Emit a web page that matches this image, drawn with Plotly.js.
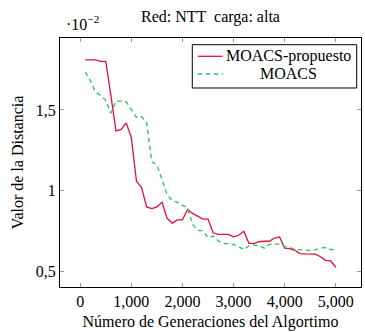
<!DOCTYPE html>
<html>
<head>
<meta charset="utf-8">
<script src="https://cdn.plot.ly/plotly-3.0.1.min.js"></script>
<style>html,body{margin:0;padding:0;background:#fff;}#chart{width:365px;height:332px;}</style>
</head>
<body>
<div id="chart"></div>
<script>
const generations = [100,200,300,400,500,600,700,800,900,1000,1100,1200,1300,1400,1500,1600,1700,1800,1900,2000,2100,2200,2300,2400,2500,2600,2700,2800,2900,3000,3100,3200,3300,3400,3500,3600,3700,3800,3900,4000,4100,4200,4300,4400,4500,4600,4700,4800,4900,5000];
const moacsPropuesto = [1.81,1.81,1.81,1.80,1.80,1.59,1.37,1.38,1.42,1.33,1.06,1.02,0.90,0.89,0.90,0.93,0.83,0.80,0.82,0.82,0.885,0.86,0.84,0.825,0.825,0.74,0.73,0.73,0.73,0.715,0.725,0.75,0.675,0.675,0.685,0.688,0.688,0.708,0.715,0.645,0.642,0.632,0.612,0.61,0.608,0.608,0.592,0.57,0.566,0.527];
const moacs = [1.735,1.68,1.61,1.59,1.56,1.48,1.555,1.555,1.55,1.50,1.455,1.46,1.42,1.18,1.16,1.07,0.975,0.94,0.93,0.91,0.895,0.79,0.755,0.752,0.71,0.72,0.69,0.675,0.672,0.668,0.655,0.635,0.66,0.665,0.66,0.645,0.67,0.672,0.67,0.655,0.65,0.637,0.634,0.632,0.632,0.634,0.646,0.648,0.637,0.635];
const xTickVals = [0,1000,2000,3000,4000,5000];
const xTickText = ['0','1,000','2,000','3,000','4,000','5,000'];
const yTickVals = [0.5,1,1.5];
const yTickText = ['0,5','1','1,5'];
const seriesNames = ['MOACS-propuesto', 'MOACS'];
const seriesColors = ['#e0103c', '#22c55a'];
const seriesDash = ['solid', '4.5px,3.5px'];

const FONT = '"Liberation Serif", serif';
const traces = [moacsPropuesto, moacs].map(function(vals, i){
  return {x: generations, y: vals, type: 'scatter', mode: 'lines', name: seriesNames[i],
          showlegend: false, line: {color: seriesColors[i], width: 1.3, dash: seriesDash[i]}};
});

// Legend box (pgfplots style: sample line + centred text), in paper coordinates
const legendRowsY = [0.9265, 0.8554];
const shapes = [
  {type: 'rect', xref: 'paper', yref: 'paper', x0: 0.4395, x1: 0.9857, y0: 0.7992, y1: 0.9731,
   line: {color: '#000', width: 1}, fillcolor: '#fff', layer: 'above'}
];
const annotations = [
  {text: '·10<sup>−2</sup>', xref: 'paper', yref: 'paper', x: 0.012, y: 1.012,
   xanchor: 'left', yanchor: 'bottom', showarrow: false, font: {family: FONT, size: 16, color: '#000'}}
];
seriesNames.forEach(function(name, i){
  shapes.push({type: 'line', xref: 'paper', yref: 'paper', x0: 0.4575, x1: 0.5405,
               y0: legendRowsY[i], y1: legendRowsY[i], layer: 'above',
               line: {color: seriesColors[i], width: 1.3, dash: seriesDash[i]}});
  annotations.push({text: name, xref: 'paper', yref: 'paper', x: 0.7598, y: legendRowsY[i] + 0.003,
                    xanchor: 'center', yanchor: 'middle', showarrow: false,
                    font: {family: FONT, size: 16, color: '#000'}});
});

const axisCommon = {
  showgrid: false, zeroline: false, showline: true, linecolor: '#000', linewidth: 1,
  mirror: 'allticks', ticks: 'inside', ticklen: 4, tickcolor: '#999', tickwidth: 1,
  tickfont: {family: FONT, size: 16, color: '#000'}
};
const layout = {
  width: 365, height: 332,
  margin: {l: 60, r: 4, t: 38, b: 45, autoexpand: false},
  paper_bgcolor: '#fff', plot_bgcolor: '#fff',
  font: {family: FONT, size: 16, color: '#000'},
  title: {text: 'Red: NTT  carga: alta', font: {family: FONT, size: 16, color: '#000'},
          x: 0.5, xref: 'paper', xanchor: 'center', y: 0.95, yref: 'container', yanchor: 'middle'},
  xaxis: Object.assign({}, axisCommon, {
    range: [-395, 5492], tickvals: xTickVals, ticktext: xTickText,
    title: {text: 'Número de Generaciones del Algortimo', font: {family: FONT, size: 16, color: '#000'}, standoff: 6}
  }),
  yaxis: Object.assign({}, axisCommon, {
    range: [0.405, 1.945], tickvals: yTickVals, ticktext: yTickText,
    title: {text: 'Valor de la Distancia', font: {family: FONT, size: 16, color: '#000'}, standoff: 8}
  }),
  showlegend: false,
  shapes: shapes,
  annotations: annotations
};
Plotly.newPlot('chart', traces, layout, {displayModeBar: false, staticPlot: true});
</script>
</body>
</html>
